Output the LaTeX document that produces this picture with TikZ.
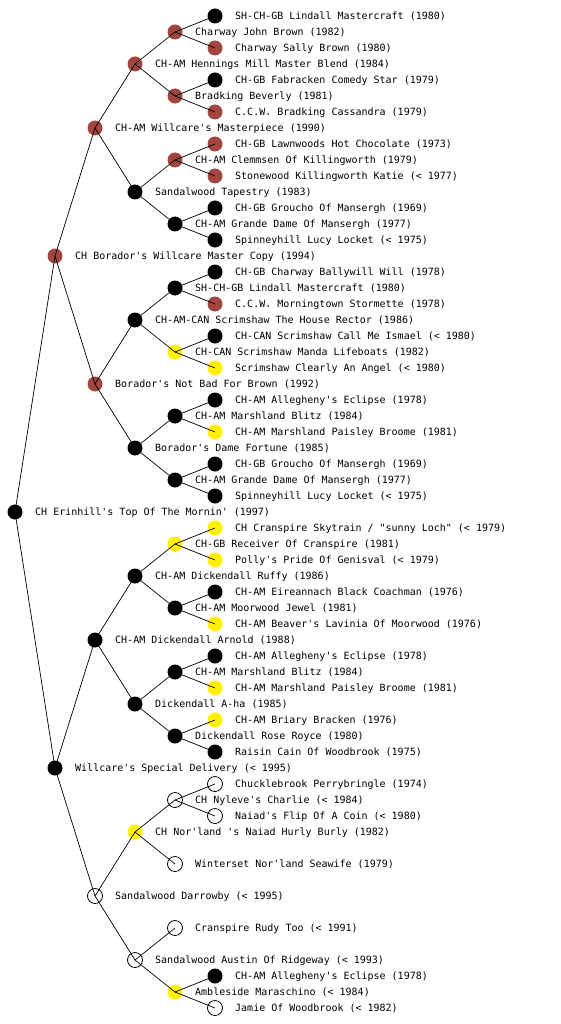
\documentclass[tikz,border=0pt]{standalone}
\usepackage{fontspec}
\newfontfamily\pf{DejaVu Sans Mono}
\definecolor{dogred}{HTML}{A0463F}
\newcommand\pnode[5]{\node[#4] (#1) at (#2,#3) {};
  \node[lbl] (#1t) at ([shift={(20,3.7)}]#1.center) {#5};}
\begin{document}
\begin{tikzpicture}[x=1pt,y=-1pt,
  dot/.style={circle,inner sep=0pt,minimum size=15pt},
  rd/.style={dot,fill=dogred},
  bk/.style={dot,fill=black},
  yl/.style={dot,fill=yellow},
  wh/.style={dot,draw=black,fill=white,line width=0.8pt},
  lbl/.style={anchor=base west,inner sep=0pt,font=\pf\fontsize{10}{12}\selectfont},
  link/.style={line width=0.7pt}]
\useasboundingbox[fill=white] (0,0) rectangle (560,1024);
\pnode{AAAAA}{215}{16}{bk}{SH-CH-GB Lindall Mastercraft (1980)}
\pnode{AAAA}{175}{32}{rd}{Charway John Brown (1982)}
\pnode{AAAAB}{215}{48}{rd}{Charway Sally Brown (1980)}
\pnode{AAA}{135}{64}{rd}{CH-AM Hennings Mill Master Blend (1984)}
\pnode{AAABA}{215}{80}{bk}{CH-GB Fabracken Comedy Star (1979)}
\pnode{AAAB}{175}{96}{rd}{Bradking Beverly (1981)}
\pnode{AAABB}{215}{112}{rd}{C.C.W. Bradking Cassandra (1979)}
\pnode{AA}{95}{128}{rd}{CH-AM Willcare's Masterpiece (1990)}
\pnode{AABAA}{215}{144}{rd}{CH-GB Lawnwoods Hot Chocolate (1973)}
\pnode{AABA}{175}{160}{rd}{CH-AM Clemmsen Of Killingworth (1979)}
\pnode{AABAB}{215}{176}{rd}{Stonewood Killingworth Katie (< 1977)}
\pnode{AAB}{135}{192}{bk}{Sandalwood Tapestry (1983)}
\pnode{AABBA}{215}{208}{bk}{CH-GB Groucho Of Mansergh (1969)}
\pnode{AABB}{175}{224}{bk}{CH-AM Grande Dame Of Mansergh (1977)}
\pnode{AABBB}{215}{240}{bk}{Spinneyhill Lucy Locket (< 1975)}
\pnode{A}{55}{256}{rd}{CH Borador's Willcare Master Copy (1994)}
\pnode{ABAAA}{215}{272}{bk}{CH-GB Charway Ballywill Will (1978)}
\pnode{ABAA}{175}{288}{bk}{SH-CH-GB Lindall Mastercraft (1980)}
\pnode{ABAAB}{215}{304}{rd}{C.C.W. Morningtown Stormette (1978)}
\pnode{ABA}{135}{320}{bk}{CH-AM-CAN Scrimshaw The House Rector (1986)}
\pnode{ABABA}{215}{336}{bk}{CH-CAN Scrimshaw Call Me Ismael (< 1980)}
\pnode{ABAB}{175}{352}{yl}{CH-CAN Scrimshaw Manda Lifeboats (1982)}
\pnode{ABABB}{215}{368}{yl}{Scrimshaw Clearly An Angel (< 1980)}
\pnode{AB}{95}{384}{rd}{Borador's Not Bad For Brown (1992)}
\pnode{ABBAA}{215}{400}{bk}{CH-AM Allegheny's Eclipse (1978)}
\pnode{ABBA}{175}{416}{bk}{CH-AM Marshland Blitz (1984)}
\pnode{ABBAB}{215}{432}{yl}{CH-AM Marshland Paisley Broome (1981)}
\pnode{ABB}{135}{448}{bk}{Borador's Dame Fortune (1985)}
\pnode{ABBBA}{215}{464}{bk}{CH-GB Groucho Of Mansergh (1969)}
\pnode{ABBB}{175}{480}{bk}{CH-AM Grande Dame Of Mansergh (1977)}
\pnode{ABBBB}{215}{496}{bk}{Spinneyhill Lucy Locket (< 1975)}
\pnode{R}{15}{512}{bk}{CH Erinhill's Top Of The Mornin' (1997)}
\pnode{BAAAA}{215}{528}{yl}{CH Cranspire Skytrain / "sunny Loch" (< 1979)}
\pnode{BAAA}{175}{544}{yl}{CH-GB Receiver Of Cranspire (1981)}
\pnode{BAAAB}{215}{560}{yl}{Polly's Pride Of Genisval (< 1979)}
\pnode{BAA}{135}{576}{bk}{CH-AM Dickendall Ruffy (1986)}
\pnode{BAABA}{215}{592}{bk}{CH-AM Eireannach Black Coachman (1976)}
\pnode{BAAB}{175}{608}{bk}{CH-AM Moorwood Jewel (1981)}
\pnode{BAABB}{215}{624}{yl}{CH-AM Beaver's Lavinia Of Moorwood (1976)}
\pnode{BA}{95}{640}{bk}{CH-AM Dickendall Arnold (1988)}
\pnode{BABAA}{215}{656}{bk}{CH-AM Allegheny's Eclipse (1978)}
\pnode{BABA}{175}{672}{bk}{CH-AM Marshland Blitz (1984)}
\pnode{BABAB}{215}{688}{yl}{CH-AM Marshland Paisley Broome (1981)}
\pnode{BAB}{135}{704}{bk}{Dickendall A-ha (1985)}
\pnode{BABBA}{215}{720}{yl}{CH-AM Briary Bracken (1976)}
\pnode{BABB}{175}{736}{bk}{Dickendall Rose Royce (1980)}
\pnode{BABBB}{215}{752}{bk}{Raisin Cain Of Woodbrook (1975)}
\pnode{B}{55}{768}{bk}{Willcare's Special Delivery (< 1995)}
\pnode{BBAAA}{215}{784}{wh}{Chucklebrook Perrybringle (1974)}
\pnode{BBAA}{175}{800}{wh}{CH Nyleve's Charlie (< 1984)}
\pnode{BBAAB}{215}{816}{wh}{Naiad's Flip Of A Coin (< 1980)}
\pnode{BBA}{135}{832}{yl}{CH Nor'land 's Naiad Hurly Burly (1982)}
\pnode{BBAB}{175}{864}{wh}{Winterset Nor'land Seawife (1979)}
\pnode{BB}{95}{896}{wh}{Sandalwood Darrowby (< 1995)}
\pnode{BBBA}{175}{928}{wh}{Cranspire Rudy Too (< 1991)}
\pnode{BBB}{135}{960}{wh}{Sandalwood Austin Of Ridgeway (< 1993)}
\pnode{BBBBA}{215}{976}{bk}{CH-AM Allegheny's Eclipse (1978)}
\pnode{BBBB}{175}{992}{yl}{Ambleside Maraschino (< 1984)}
\pnode{BBBBB}{215}{1008}{wh}{Jamie Of Woodbrook (< 1982)}
\foreach \p/\c in {R/A,R/B,
  A/AA,A/AB,B/BA,B/BB,
  AA/AAA,AA/AAB,AB/ABA,AB/ABB,BA/BAA,BA/BAB,BB/BBA,BB/BBB,
  AAA/AAAA,AAA/AAAB,AAB/AABA,AAB/AABB,ABA/ABAA,ABA/ABAB,ABB/ABBA,ABB/ABBB,
  BAA/BAAA,BAA/BAAB,BAB/BABA,BAB/BABB,BBA/BBAA,BBA/BBAB,BBB/BBBA,BBB/BBBB,
  AAAA/AAAAA,AAAA/AAAAB,AAAB/AAABA,AAAB/AAABB,AABA/AABAA,AABA/AABAB,AABB/AABBA,AABB/AABBB,
  ABAA/ABAAA,ABAA/ABAAB,ABAB/ABABA,ABAB/ABABB,ABBA/ABBAA,ABBA/ABBAB,ABBB/ABBBA,ABBB/ABBBB,
  BAAA/BAAAA,BAAA/BAAAB,BAAB/BAABA,BAAB/BAABB,BABA/BABAA,BABA/BABAB,BABB/BABBA,BABB/BABBB,
  BBAA/BBAAA,BBAA/BBAAB,BBBB/BBBBA,BBBB/BBBBB}
  \draw[link] (\p.center) -- (\c.center);
\end{tikzpicture}
\end{document}
